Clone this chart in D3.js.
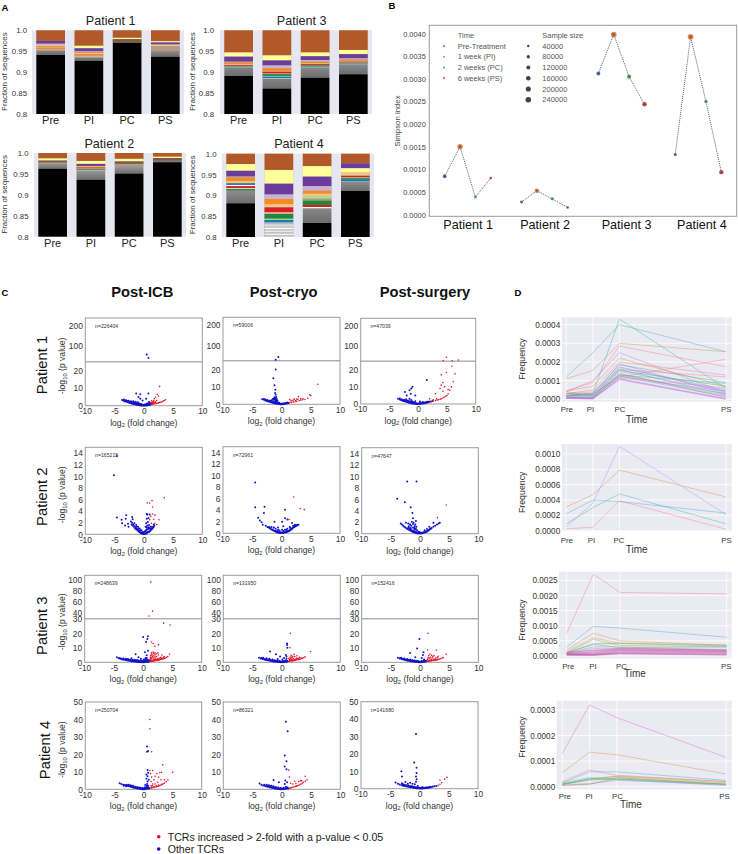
<!DOCTYPE html>
<html><head><meta charset="utf-8">
<script src="https://cdn.jsdelivr.net/npm/d3@7"></script>
<style>html,body{margin:0;padding:0;background:#fff}svg{display:block}text{font-family:"Liberation Sans",Arial,sans-serif}</style>
</head><body><svg id="c" width="738" height="854"></svg>
<script>
// ---------- Panel A data (band widths in thousandths, from the top of each bar) ----------
const timeShort=["Pre","PI","PC","PS"];
const bandColors={n:"#b15928",y:"#ffff99",p:"#6a3d9a",l:"#cab2d6",o:"#f98a1c",e:"#f5c488",r:"#d8201f",k:"#f0a09c",g:"#1a8a3c",G:"#b2df8a",b:"#1f78b4",c:"#a6cee3",w:"#ffffff",x:"#cfcfcf",m:"#7d5a45",t:"#b59a85"};
const a1Black=[.941,.9275,.97,.937];
const a1Codes=["npleoeoke","nyploeokec","nym","nypet"];
const a1Widths=[[25,7,3,3,3,2,2,2,1],[37,6,7,2,2,3,3,2,2,1],[18,3,9],[26,3,5,4,12]];
const a2Black=[.9625,.936,.951,.978];
const a2Codes=["nymt","nypeorkgGc","nymt","nym"];
const a2Widths=[[13,5,5,3],[19,7,5,2,2,2,2,2,1,1],[14,6,6,5],[9,3,6]];
const a3Black=[.891,.861,.887,.895];
const a3Codes=["nyploerkgGbc","nyploerkgGbc","nyploerkgGbc","nyploerkgGbc"];
const a3Widths=[[53,10,12,2,4,2,2,1,1,1,1,1],[60,12,12,7,6,2,4,2,4,2,3,2],[53,9,9,4,4,2,2,1,2,1,1,1],[47,10,10,3,3,2,2,1,1,1,1,1]];
const a4Black=[.881,.8,.8336,.9104];
const a4Codes=["nyploebwrwg","nyploerkgGbcxwxwxwxwx","nyploeGtgrw","npyerGgbc"];
const a4Widths=[[25,16,14,2,9,5,4,3,5,2,3],[39,33,26,11,12,8,11,5,11,3,6,3,2,3,5,3,5,3,4,3,4],[30,25,23,11,7,6,6,5,10,5,3],[23,12,10,8,4,2,3,4,1]];
const aTicks=[.8,.85,.9,.95,1];

// ---------- Panel B data ----------
const patients=["Patient 1","Patient 2","Patient 3","Patient 4"];
const timeNames=["Pre-Treatment","1 week (PI)","2 weeks (PC)","6 weeks (PS)"];
const timeColors=["#4c72b0","#dd8452","#55a868","#c44e52"];
const simpson=[[.00085,.0015,.00039,.00081],[.00028,.00053,.00035,.00016],[.00312,.00398,.00305,.00244],[.00133,.00393,.0025,.00094]];
const sampleSizes=[[110000,226404,59006,47039],[60000,165215,72961,47647],[115000,248639,131950,152416],[70000,250704,86321,141680]];
const simpsonIndex=[[0,1,2,3],[5,6,7,8],[10,11,12,13],[15,16,17,18]];
const groupCenters=[1.5,6.5,11.8,16.7];
const sizeLegend=[40000,80000,120000,160000,200000,240000];
const simpsonTicks=[0,.0005,.001,.0015,.002,.0025,.003,.0035,.004];

// ---------- Panel C data: [log2 fold change, -log10 p] ----------
const columnTitles=["Post-ICB","Post-cryo","Post-surgery"];
const nLabels=[["n=226404","n=59006","n=47039"],["n=165215","n=72961","n=47647"],["n=248639","n=131950","n=152416"],["n=250704","n=86321","n=141680"]];
const v11b=[[-3.7,3.3],[-3.5,2.9],[-3.3,2.6],[-3.1,2.4],[-2.9,2.2],[-2.7,2],[-2.5,1.7],[-2.3,1.5],[-2.1,1.3],[-1.9,1.1],[-1.7,.9],[-1.5,.8],[-1.3,.6],[-1.1,.5],[-.9,.35],[-.7,.25],[-.5,.15],[-.3,.1],[-.1,.05],[.1,.05],[.3,.1],[.5,.15],[.7,.25],[.9,.4],[1.1,.5],[-3,3.1],[-2.6,2.8],[-2.2,2.5],[-2,2],[-1.8,2.6],[-1.6,1.8],[-1.4,2.2],[-1.2,1.5],[-1,1.9],[-.8,1.3],[-.6,1],[-.4,.8],[-.2,.6],[0,.5],[.2,.7],[.4,.9],[.6,1.2],[.8,1.5],[1,1.3],[-1.3,7],[-.6,6.5],[.8,7],[-.6,4],[.4,4],[-.9,5],[-.2,3],[.5,60],[.8,43],[-3.4,3.6],[-3.2,3],[-2.8,2.7],[-2.4,2.2],[-2.2,1.9],[-1.9,1.7],[-1.7,1.4],[-1.5,1.2],[-1.3,1],[-1.1,1.2],[-.9,.9],[-.7,.7],[-.5,.5],[-.3,.4],[-.1,.3],[.1,.3],[.3,.4],[.5,.5],[.7,.6],[.9,.8],[1.1,1],[1.3,.9],[1.2,1.6],[.9,2.1]];
const v11r=[[1.3,.7],[1.5,.9],[1.7,1],[1.9,1.1],[2.1,1.2],[2.3,1.4],[2.5,1.6],[2.7,1.8],[2.9,2],[3.1,2.2],[3.3,2.6],[3.5,3],[3.7,3.4],[1.4,2],[1.6,2.5],[1.5,1.6],[1.8,1.8],[1.3,2.8],[2,2.2],[2.2,3],[1.7,3],[2.3,6.5],[2,5],[2.7,11],[2.5,5.5],[1.8,4],[1.4,1.3],[1.7,1.5],[2,1.7],[1.5,2.1],[1.2,1.7]];
const v12b=[[-3.3,2.9],[-3,2.6],[-2.8,2.3],[-2.6,2],[-2.4,1.8],[-2.2,1.6],[-2,1.4],[-1.8,1.2],[-1.6,1],[-1.4,.8],[-1.2,.6],[-1,.5],[-.8,.35],[-.6,.25],[-.4,.15],[-.2,.1],[0,.05],[.2,.1],[.4,.2],[.6,.3],[.8,.45],[1,.6],[1.2,.75],[-1.9,2],[-1.7,2.3],[-1.5,1.7],[-1.3,2.6],[-1.1,1.8],[-1.5,3],[-1.2,3.4],[-.9,2.4],[-1.1,3],[-.8,1.6],[-.6,1.1],[-.4,.9],[-.9,4.2],[-1,5.5],[-1.05,8.4],[-1.2,11],[-1.1,6.5],[-1.4,15],[-1,20],[-.54,43],[-1,30],[-3,3],[-2.7,2.7],[-2.4,2.4],[-2.1,2.1],[-1.8,1.7],[-1.6,1.4],[-1.4,1.2],[-1.2,1],[-1,.9],[-.8,.8],[-.6,.6],[-.4,.5],[-.2,.3],[0,.3],[.2,.4],[.4,.5],[.6,.6],[.8,.8],[1,1],[-1.3,3.2],[-1,2.4],[-.7,2],[-1.2,4],[-1,3.6],[-.8,3]];
const v12r=[[1.4,.9],[1.7,1],[2,1.3],[2.3,1.5],[2.6,1.7],[3,2.2],[3.3,2.4],[3.6,2.6],[4,2.8],[4.5,3.5],[5,5],[6.2,11.5],[2.9,4.5],[2.2,3],[3.3,3.3],[4.8,5.5],[2,2.5],[2.6,3],[1.6,1.9],[1.4,2.7],[2.4,2.2],[2.8,2.9],[3.7,3.2],[1.8,2.2]];
const v13b=[[-3.5,3],[-3.2,2.6],[-3,2.3],[-2.8,2],[-2.6,1.8],[-2.4,1.6],[-2.2,1.4],[-2,1.2],[-1.8,1],[-1.6,.8],[-1.4,.6],[-1.2,.5],[-1,.35],[-.8,.25],[-.6,.15],[-.4,.1],[-.2,.05],[0,.05],[.2,.1],[.4,.15],[.6,.25],[.8,.3],[1,.4],[1.2,.55],[1.4,.7],[1.6,.85],[1.8,1],[-2.4,2.3],[-2.1,2.8],[-1.8,2],[-1.5,1.6],[-1.2,2.3],[-1,1.5],[-.8,1],[-.5,1.6],[-1.5,3],[-1,10],[-2.3,7],[-1.5,8],[-1.2,9],[-2,5],[-1.3,6],[-.5,5],[1.5,14],[.3,1.4],[.8,1.2],[-3.2,3.2],[-2.9,2.7],[-2.6,2.4],[-2.3,2],[-2,1.8],[-1.7,1.4],[-1.4,1.2],[-1.2,1.1],[-1,.9],[-.8,.7],[-.6,.6],[-.4,.4],[-.2,.3],[0,.3],[.2,.4],[.4,.5],[.6,.6],[.8,.7],[1,.8],[1.2,.9],[1.4,1.1],[1.6,1.3],[1.9,1.4],[2.2,1.5],[2.5,1.7]];
const v13r=[[2,1],[2.3,1.3],[2.6,1.6],[3,2],[3.3,2.3],[3.5,2.5],[3.8,2.8],[4,3],[4.3,3.5],[4.5,4],[4.8,4.5],[5,5],[5.2,6],[5.5,8],[5.8,10],[6.1,13],[2.6,2.5],[3.2,3],[4.3,12.5],[4,11],[4.6,10],[3.8,9],[5.2,8.4],[4.3,7.4],[3,6],[2,3],[4.9,44],[4.35,28],[5.9,27],[7,31],[5.85,22],[6.4,17.6],[4.9,18.4],[4,17]];
const v21b=[[-5.1,10.2],[-4.6,13.5],[-4.6,2.9],[-3.8,2.5],[-3.7,1.9],[-3,3.3],[-3.1,2.7],[-2.7,1.8],[-2.6,1.3],[-3.2,1.5],[-2,3],[-1.9,2.6],[-2.2,2.2],[-2,2],[-1.8,1.7],[-1.6,1.4],[-1.4,1.2],[-1.2,.95],[-1,.8],[-.8,.6],[-.6,.4],[-.4,.25],[-.2,.12],[0,.05],[.2,.08],[.4,.15],[.6,.25],[.8,.4],[1,.5],[1.2,.75],[1.4,.95],[1.6,1.2],[1.8,1.5],[-1.6,1.9],[-1.3,1.6],[-1,1.3],[-.7,1],[-.4,.7],[-.2,.4],[0,.3],[.2,.5],[.4,.7],[.6,1],[.8,.9],[1,1.1],[1.2,1.3],[.5,3.5],[.6,3.4],[.8,2.8],[.7,2.1],[.9,1.6],[.4,1.9],[.5,2.7],[.3,1.3],[.6,1.5],[1,3.4],[-2.1,1.7],[-1.9,1.5],[-1.7,1.3],[-1.5,1],[-1.3,.85],[-1.1,.7],[-.9,.5],[-.7,.35],[-.5,.2],[-.3,.1],[-.1,.1],[.1,.1],[.3,.15],[.5,.3],[.7,.4],[.9,.5],[1.1,.6],[1.3,.85],[1.5,1],[1.7,1.3],[-1.2,1.3],[-.9,1],[-.6,.7],[.3,.6],[.5,.8],[.8,1.2],[.5,1.2],[1.1,1],[1.4,1.3],[1.7,1.7],[-.1,.35]];
const v21r=[[3.5,6.3],[1.4,5.8],[1,5.4],[.6,5.4],[1.5,4.7],[1.5,3.5],[1.9,3.3],[1.2,3.1],[2.6,2.5],[1.7,2.6],[1,2.5],[1.9,1.9],[1.3,1.9],[2.2,1.7]];
const v22b=[[-4.5,8.8],[-4.5,4.5],[-2.9,4.6],[-3,3.5],[-4,2.7],[-3.7,2.2],[-3.4,1.9],[-3.2,1.5],[-2.7,1.3],[-2.4,1.1],[-2.2,1],[-2,.9],[-1.8,.7],[-1.6,.6],[-1.4,.5],[-1.2,.4],[-1,.3],[-.8,.2],[-.6,.15],[-.4,.1],[-.2,.05],[0,.05],[.2,.06],[.4,.1],[.6,.15],[.8,.2],[1,.25],[1.2,.35],[1.4,.45],[1.6,.6],[1.8,.75],[2,1],[2.2,1.1],[2.4,1.2],[2.6,1.3],[2.9,1.5],[-1.7,1.1],[-1.3,1],[-1,.8],[-.7,.5],[-.3,.4],[.3,.4],[.6,.6],[1,.8],[-1.2,2],[.6,4.1],[.6,2.6],[.1,2],[1,2.4],[1.8,1.8],[.3,1.2],[-.6,1],[1.4,1.1],[-2.1,1.1],[-1.9,.85],[-1.5,.65],[-1.1,.45],[-.9,.3],[-.7,.25],[-.5,.2],[-.3,.15],[-.1,.15],[.1,.15],[.3,.15],[.5,.2],[.7,.25],[.9,.35],[1.1,.4],[1.3,.5],[1.5,.6],[1.7,.8],[1.9,.9],[2.1,1.1],[2.3,1.3],[2.5,1.4],[2.7,1.5],[-.5,.6],[.1,.6],[.8,.6],[1.5,.9],[2,1.3],[2.3,1.5]];
const v22r=[[2.1,6.3],[3.2,4.3],[3.9,4.1],[1.3,2.4]];
const v23b=[[-2.2,9.1],[-.6,9.1],[-3.9,6.1],[-2.6,5.5],[-1.6,4.6],[-1.3,3.6],[-1.2,2.7],[-3.3,1.8],[-3.1,1.6],[-2.9,1.4],[-2.7,1.2],[-2.5,1.1],[-2.3,.9],[-2.1,.8],[-1.9,.7],[-1.7,.55],[-1.5,.45],[-1.3,.35],[-1.1,.25],[-.9,.2],[-.7,.12],[-.5,.08],[-.3,.05],[0,.05],[.2,.05],[.4,.1],[.6,.15],[.8,.2],[1,.3],[1.2,.4],[1.4,.55],[1.6,.7],[1.8,.85],[2,1],[2.3,1.2],[2.6,1.4],[2.9,1.6],[3.2,1.8],[3.4,1.9],[2.3,1.9],[1.6,1.2],[-2.4,1.9],[-2,1.8],[-1.7,1.6],[-1.4,2.1],[-1.1,1.9],[-.9,1.3],[-1.2,1.1],[-.7,.8],[-.5,.6],[-.9,.7],[-1.6,1],[-.2,.35],[.8,.6],[1.2,.8],[-2,1.1],[-1.8,.9],[-1.6,.8],[-1.4,.6],[-1.2,.5],[-1,.4],[-.8,.35],[-.6,.25],[-.4,.2],[-.2,.15],[0,.2],[.1,.15],[.3,.15],[.5,.2],[.7,.25],[.9,.3],[1.1,.4],[1.3,.5],[1.5,.6],[1.7,.8],[1.9,.9],[-1.2,1.7],[-1,.9],[-.9,1],[-.6,1.2],[-.8,1.6],[-.7,2.2],[-1.5,1.4],[-1.9,1.3]];
const v23r=[[4.5,5],[3,2.8]];
const v31b=[[-4.5,3.4],[-4.2,2.8],[-3.9,2.4],[-3.6,2],[-3.3,1.8],[-3,1.6],[-2.8,1.4],[-2.6,1.2],[-2.4,1.1],[-2.2,1],[-2,.8],[-1.8,.7],[-1.6,.6],[-1.4,.5],[-1.2,.4],[-1,.3],[-.8,.25],[-.6,.2],[-.4,.1],[-.2,.05],[0,.05],[.2,.1],[.4,.2],[.6,.3],[.8,.4],[1,.5],[-3.4,2.6],[-3,2.4],[-2.6,2.2],[-2.2,1.8],[-1.8,1.6],[-1.4,1.5],[-1,1.2],[-.6,1],[-.2,.8],[.2,1],[.6,1.1],[-2,2.8],[-1.3,5.5],[-.8,3.5],[-.4,2.4],[.4,3],[.6,4.8],[.8,8],[.5,14],[.7,16],[0,17.5],[.8,18],[.3,7],[.1,2],[1,1.5],[-4,3],[-3.7,2.5],[-3.4,2.2],[-3.1,2],[-2.8,2.2],[-2.5,1.8],[-2.3,1.6],[-2.1,1.4],[-1.9,1.2],[-1.7,1.1],[-1.5,1],[-1.3,.8],[-1.1,.7],[-.9,.6],[-.7,.5],[-.5,.4],[-.3,.4],[-.1,.3],[.1,.3],[.3,.5],[.5,.6],[.7,.7],[.9,.8],[-1.5,1.8],[-1.2,1.5],[-.9,1.5],[-.4,1.4],[0,1.2],[.4,1.6],[.7,1.8],[.9,1.4],[.6,3],[.4,2.2]];
const v31r=[[1.2,.6],[1.4,.7],[1.6,.8],[1.8,.9],[2,1],[2.2,1.2],[2.4,1.3],[2.6,1.5],[2.8,1.7],[3,1.9],[3.2,2.1],[3.4,2.3],[3.6,2.6],[3.8,3],[4,3.4],[4.2,4],[4.5,5.6],[1.2,1.5],[1.3,2.5],[1.5,3.5],[1.3,4.5],[1.5,5.5],[1.7,4.5],[1.4,6.5],[1.7,7],[1.9,2],[2.1,3],[2,5],[2.4,2.5],[2.3,4],[2.7,3],[2.6,5],[3,3.5],[3.2,5],[3.6,4],[2,6.5],[1.4,14],[1.7,13],[2.6,12],[2,11],[3.5,27],[4.6,25.7],[1.6,44],[1,35],[1.3,97],[1.3,1.1],[1.5,1.3],[1.7,1.4],[1.9,1.5],[2.1,1.7],[2.3,1.9],[2.5,2],[2.7,2.2],[2.9,2.4],[3.1,2.6],[3.3,3],[3.5,3.2],[1.2,2.2],[1.5,2.3],[1.4,3],[1.6,4],[1.2,3.5],[1.8,3],[2,3.8],[1.8,6],[1.4,5],[2.2,5.8],[2.5,6.5]];
const v32b=[[-3.9,3.2],[-3.6,2.6],[-3.3,2.3],[-3,2],[-2.8,1.8],[-2.6,1.6],[-2.4,1.4],[-2.2,1.2],[-2,1],[-1.8,.9],[-1.6,.8],[-1.4,.6],[-1.2,.5],[-1,.4],[-.8,.3],[-.6,.2],[-.4,.15],[-.2,.1],[0,.05],[.2,.1],[.4,.2],[.6,.3],[.8,.4],[1,.5],[-3.2,3.2],[-2.6,2.8],[-2.1,2.4],[-1.6,2],[-1.2,1.5],[-.8,1.2],[-.4,1],[.2,.9],[.6,1.2],[-2,7.5],[-1,5.5],[-.3,4],[.4,3],[.9,13],[.9,12],[.95,10],[.7,5],[.8,4],[-3.5,3],[-3.1,2.6],[-2.7,2.3],[-2.3,1.9],[-1.9,1.6],[-1.5,1.3],[-1.3,1.1],[-1.1,.9],[-.9,.8],[-.7,.7],[-.5,.6],[-.3,.5],[-.1,.4],[.1,.4],[.3,.6],[.5,.8],[.7,.9],[.9,1],[-.7,2.2],[.1,2],[.8,2.4]];
const v32r=[[1.2,.6],[1.4,.8],[1.6,.9],[1.8,1],[2,1.1],[2.2,1.3],[2.4,1.5],[2.6,1.7],[2.8,1.9],[3,2.1],[3.2,2.3],[3.4,2.6],[3.6,2.9],[3.8,3.3],[4,3.8],[4.9,7.5],[1.3,1.8],[1.5,2.6],[1.4,3.5],[1.7,2],[1.8,3.2],[2,2.5],[2.2,4],[2.5,3],[2.6,4.5],[3,3.5],[2.1,5.5],[1.6,4.8],[1.4,10],[1.45,20],[1.3,1.2],[1.5,1.5],[1.7,1.4],[1.9,1.6],[2.1,1.8],[2.3,2],[2.5,2.2],[2.7,2.5],[1.2,2.6],[1.6,3.6],[1.9,4.2],[2.9,2.8],[3.3,3.1]];
const v33b=[[-3.8,3.2],[-3.5,2.7],[-3.2,2.4],[-3,2.1],[-2.8,1.9],[-2.6,1.7],[-2.4,1.5],[-2.2,1.3],[-2,1.1],[-1.8,1],[-1.6,.8],[-1.4,.7],[-1.2,.5],[-1,.4],[-.8,.3],[-.6,.2],[-.4,.15],[-.2,.1],[0,.05],[.2,.1],[.4,.2],[.6,.3],[.8,.4],[1,.5],[-3.2,3],[-2.7,2.6],[-2.2,2.2],[-1.7,2],[-1.3,1.6],[-.9,1.3],[-.5,1.1],[-.2,.8],[.3,.9],[.7,1.1],[-.1,16],[-.5,9.5],[-1.7,6.5],[.6,7],[.5,5],[-.8,3.5],[.3,3],[-3.4,3],[-3.1,2.5],[-2.9,2.3],[-2.5,2],[-2.1,1.7],[-1.9,1.5],[-1.5,1.2],[-1.1,.9],[-.7,.7],[-.3,.5],[.1,.4],[.5,.6],[.9,.9],[1.1,1],[.7,2]];
const v33r=[[1.2,.6],[1.4,.7],[1.6,.8],[1.8,.9],[2,1],[2.2,1.2],[2.4,1.3],[2.6,1.5],[2.8,1.6],[3,1.8],[3.2,2],[3.4,2.3],[3.6,2.6],[3.8,2.9],[4,3.3],[4.5,5.5],[1.3,2],[1.6,2.7],[1.9,2],[2.1,3],[2.4,2.3],[2.7,3],[3,3.4],[1.5,4.5],[2,4.8],[1.7,5.5],[2.4,4.6],[3.1,4.2],[1.3,8.5],[2.8,8.5],[1.4,20],[1.4,1.2],[1.7,1.4],[2,1.6],[2.3,1.8],[2.6,2],[2.9,2.3],[1.4,3.2],[1.8,3.5],[2.2,3.9]];
const v41b=[[-4.1,3.5],[-3.8,3],[-3.5,2.6],[-3.2,2.4],[-3,2.2],[-2.8,2],[-2.6,1.9],[-2.4,1.7],[-2.2,1.5],[-2,1.3],[-1.8,1.1],[-1.6,.9],[-1.4,.8],[-1.2,.6],[-1,.5],[-.8,.4],[-.6,.25],[-.4,.15],[-.2,.1],[0,.05],[.2,.1],[.4,.2],[.6,.3],[.8,.4],[1,.5],[-3.4,2],[-3,1.7],[-2.6,2.6],[-2.2,2.3],[-1.8,2],[-1.4,1.5],[-1,1.2],[-.6,1],[-.2,.8],[.2,1],[.5,1.6],[.6,3],[.7,4.5],[.5,6],[.7,7.5],[.5,8.5],[.8,9.5],[.7,11],[.9,5.5],[.3,2.5],[.6,24.5],[.6,21.5],[.8,22],[-2.9,2.6],[-2.5,2.3],[-2.1,1.9],[-1.7,1.6],[-1.3,1.2],[-1.1,1],[-.9,.8],[-.7,.6],[-.5,.5],[-.3,.4],[-.1,.4],[.1,.5],[.3,.7],[.5,.8],[.7,1.1],[.9,1.1],[.8,2],[.6,2]];
const v41r=[[1.2,.7],[1.4,.8],[1.6,1],[1.8,1.1],[2,1.3],[2.2,1.5],[2.4,1.7],[2.6,1.9],[2.8,2.2],[3,2.4],[3.2,2.8],[3.4,3.2],[3.6,3.6],[3.9,4.4],[4.2,5.3],[1.3,2],[1.6,3],[1.3,4.5],[1.8,5.5],[1.4,7],[2,7.5],[1.2,9],[1.6,10.8],[1.1,10.7],[2.3,9],[2.6,7],[2.8,9.5],[3.1,9.7],[3.3,14],[3.6,5.5],[5,9.7],[2.4,4],[3,5.5],[1.4,21.5],[1.1,34.7],[1.1,40],[1.4,1.3],[1.8,1.6],[2.2,2],[2.6,2.4],[1.5,2],[2,3]];
const v42b=[[-3.8,3.3],[-3.5,2.6],[-3.2,2.2],[-2.9,2],[-2.7,1.8],[-2.5,1.6],[-2.3,1.4],[-2.1,1.2],[-1.9,1],[-1.7,.9],[-1.5,.8],[-1.3,.6],[-1.1,.5],[-.9,.35],[-.7,.25],[-.5,.2],[-.3,.1],[-.1,.05],[.1,.05],[.3,.1],[.5,.2],[.7,.3],[.9,.4],[1.1,.5],[-2.6,2.6],[-2.2,2.3],[-1.8,2.1],[-1.4,1.7],[-1,1.3],[-.6,1.1],[-.2,.8],[.3,.9],[.7,1.5],[.5,3],[.6,5],[.9,4],[-1.4,5.3],[-.5,4],[.7,38.7],[1,33.3],[.5,19.3],[.8,16],[.5,13],[.8,11.5],[-3,2.6],[-2.4,2],[-2,1.7],[-1.6,1.4],[-1.2,1],[-.8,.8],[-.4,.5],[0,.4],[.4,.6],[.8,.9],[1,1.1]];
const v42r=[[1.3,.6],[1.5,.8],[1.7,1],[1.9,1.2],[2.1,1.4],[2.3,1.6],[2.5,1.8],[2.7,2],[2.9,2.3],[3.1,2.6],[3.3,3],[3.5,3.5],[3.7,4],[4,4.7],[4.3,5.5],[4,7.5],[1.2,11],[1.3,7],[3.2,5],[2.9,4.5],[2.4,3.3],[1.9,3],[1.5,3.5],[3.4,4.8],[2.2,4.6]];
const v43b=[[-4.1,3.5],[-3.7,2.8],[-3.4,2.4],[-3.1,2.1],[-2.9,1.9],[-2.7,1.7],[-2.5,1.5],[-2.3,1.4],[-2.1,1.3],[-1.9,1.1],[-1.7,1],[-1.5,.9],[-1.3,.8],[-1.1,.6],[-.9,.5],[-.7,.4],[-.5,.3],[-.3,.2],[-.1,.1],[.1,.1],[.3,.1],[.5,.15],[.7,.2],[.9,.3],[1.1,.35],[1.3,.45],[1.5,.6],[1.7,.7],[1.9,.8],[2.1,1],[2.3,1.2],[2.6,1.4],[2.9,1.6],[-3,3.2],[-2.4,3.8],[-2,2.8],[-1.6,3.4],[-1.2,2.8],[-.8,2.6],[-.6,4],[-.5,5.5],[-.6,7],[-.5,9],[-.5,12],[-.9,15],[-3,7],[-3.1,10],[-.6,31.5],[.5,.8],[-.3,1.5],[-2.8,2.6],[-2.5,2.2],[-2.2,2],[-1.9,1.8],[-1.6,1.6],[-1.4,1.4],[-1.2,1.2],[-1,1.1],[-.8,1],[-.6,.9],[-.4,.7],[-.2,.5],[0,.5],[.2,.4],[.4,.5],[.7,.6],[1,.7],[1.3,.9],[1.7,1.1]];
const v43r=[[3.2,2],[3.5,2.6],[3.8,3.5],[3.5,5],[4.3,5.5],[4.7,6.5]];
const volcanoBlue=[[v11b,v12b,v13b],[v21b,v22b,v23b],[v31b,v32b,v33b],[v41b,v42b,v43b]];
const volcanoRed=[[v11r,v12r,v13r],[v21r,v22r,v23r],[v31r,v32r,v33r],[v41r,v42r,v43r]];
const foldTicks=[-10,-5,0,5,10];
const pRow1Ticks=[0,10,20,100,200];
const pRow2Ticks=[0,2,4,6,8,10,12,14];
const pRow3Ticks=[0,10,20,30,40,60,80,100];
const pRow4Ticks=[0,10,20,30,40,50];
const legendLabels=["TCRs increased > 2-fold with a p-value < 0.05","Other TCRs"];

// ---------- Panel D data: frequency at weeks 0,1,2,6 ----------
const weeks=[0,1,2,6];
const husl=["#f77189","#ce9032","#97a431","#32b166","#36ada4","#39a7d0","#a48cf4","#dd62c8","#c45fb0"];
const d1Lines=[[.00012,.00025,.0004,.000255],[.00002,.00003,.00043,.00006],[.00011,.000155,.0003,.000255],[.000045,.00009,.000285,.000175],[.00004,.0001,.00025,.000035],[.00002,.00003,.00012,.000215],[.000045,.00007,.00022,.00007],[.00003,.00005,.0002,.00013],[.00002,.00003,.00019,.00003],[.00003,.00003,.000185,.00009],[.00002,.000025,.00017,.00005],[.000015,.00001,.00016,.000025],[.00003,.00002,.000155,.00007],[.00001,.00001,.00015,.000045],[.000005,.000005,.00014,.00001],[.00001,.000005,.00013,.00003],[.000015,.00001,.00012,.00006],[.00001,.000005,.000115,.000045],[.000005,.000002,.00011,.000002],[.00001,.000005,.00011,.000005],[.000005,.000002,.000105,0],[.00003,.00004,.00016,.00012],[.00002,.00002,.00013,.000085],[.00004,.00002,.000135,.00002],[.00001,.00001,.000125,.000015],[.00002,.000015,.000175,.00004]];
const d1Colors=[4,4,1,0,7,0,1,0,7,4,5,5,3,6,7,5,0,6,7,6,7,0,4,1,5,6];
const d2Lines=[[.00031,.00047,.00079,.00044],[.00005,.00036,.0011,.00021],[.00009,.0003,.00048,.00009],[.00022,.0004,.00038,.00023],[.000025,.000045,.00039,.00002]];
const d2Colors=[1,6,4,5,0];
const d3Lines=[[.00075,.0027,.0021,.00205],[.0003,.00098,.00092,.00062],[.0002,.00075,.0005,.00035],[.00015,.0006,.00042,.00037],[.0001,.00055,.00035,.0003],[.0001,.0004,.00042,.00033],[.00012,.00038,.00028,.0003],[.0001,.0003,.0003,.0002],[.0001,.00025,.00025,.00022],[.0001,.0002,.0002,.00015],[.00012,.00018,.00026,.00018],[.00008,.00015,.00024,.0002],[.00008,.00012,.00022,.00018],[.00006,.0001,.0002,.00016],[.00008,.00008,.00018,.00014],[.00006,.00006,.00016,.00012],[.00005,.00005,.00014,.0001],[.00005,.00004,.00012,.00009],[.00004,.00004,.0001,.00007],[.00004,.00003,.00009,.00005],[.00003,.00003,.00008,.00004],[.00003,.00002,.00007,.00003]];
const d3Colors=[0,5,1,1,2,3,5,1,6,8,8,8,8,8,8,8,8,8,8,8,8,8];
const d4Lines=[[.00013,.00032,.00027,.000115],[.000055,.000135,.000125,.00005],[.00002,.000065,.000045,.00002],[.000015,.000058,.000058,.000025],[.000015,.000035,.00003,.00001],[.00001,.00003,.000042,.00002],[.00001,.00003,.00004,.000015],[.00001,.000025,.000035,.00001],[.000005,.00001,.000035,.00001],[.00001,.00001,.00003,.000008],[.000008,.00003,.000028,.000005],[.000005,.000012,.000025,.000008]];
const d4Colors=[7,1,0,5,4,1,2,3,1,2,4,6];
const d1Ticks=[0,.0001,.0002,.0003,.0004];
const d2Ticks=[0,.0002,.0004,.0006,.0008,.001];
const d3Ticks=[0,.0005,.001,.0015,.002,.0025];
const d4Ticks=[0,.0001,.0002,.0003];

// ---------- drawing ----------
const svg=d3.select("#c");
const defs=svg.append("defs");
const grad=defs.append("linearGradient").attr("id","grayBand").attr("x1",0).attr("x2",0).attr("y1",0).attr("y2",1);
grad.append("stop").attr("offset","0%").attr("stop-color","#d2d2d2");
grad.append("stop").attr("offset","55%").attr("stop-color","#a8a8a8");
grad.append("stop").attr("offset","100%").attr("stop-color","#6c6c6c");

function label(x,y,txt,o={}){
  return svg.append("text").attr("x",x).attr("y",y).attr("text-anchor",o.anchor||"middle").attr("dominant-baseline","central")
    .attr("font-size",o.size||8).attr("font-weight",o.weight||null).attr("fill",o.fill||"#222")
    .attr("transform",o.rot?`rotate(${o.rot} ${x} ${y})`:null).text(txt);
}
function styleAxis(g,size,fill){
  g.select(".domain").remove();
  g.selectAll(".tick line").remove();
  g.selectAll("text").attr("font-size",size).attr("fill",fill).attr("font-family",'"Liberation Sans",Arial,sans-serif');
}
[["A",5,7],["B",392,5],["C",5,292],["D",518,292]].forEach(d=>label(d[1],d[2],d[0],{size:9.5,weight:"bold",fill:"#000"}));

// Panel A
function stackPanel(cfg){
  const y=d3.scaleLinear().domain([.8,1]).range([cfg.bottom,cfg.top]);
  const x=d3.scaleBand().domain(timeShort).range([cfg.left,cfg.right]).paddingInner(.25).paddingOuter(.113);
  const g=svg.append("g");
  g.append("rect").attr("x",cfg.left).attr("y",cfg.top).attr("width",cfg.right-cfg.left).attr("height",cfg.bottom-cfg.top).attr("fill","#e6e6f0");
  timeShort.forEach((t,i)=>{
    let cur=1;
    const codes=cfg.codes[i], w=cfg.widths[i];
    const black=cfg.black[i];
    g.append("rect").attr("x",x(t)).attr("width",x.bandwidth()).attr("y",y(1)).attr("height",y(black)-y(1)).attr("fill","url(#grayBand)");
    g.append("rect").attr("x",x(t)).attr("width",x.bandwidth()).attr("y",y(black)).attr("height",y(.8)-y(black)).attr("fill","#000");
    w.forEach((v,j)=>{
      const next=cur-v/1000;
      g.append("rect").attr("x",x(t)).attr("width",x.bandwidth()).attr("y",y(cur)).attr("height",y(next)-y(cur)).attr("fill",bandColors[codes[j]]);
      cur=next;
    });
  });
  const ax=g.append("g").attr("transform",`translate(0,${cfg.bottom})`).call(d3.axisBottom(x).tickSize(0).tickPadding(2.5));
  styleAxis(ax,11,"#222");
  const ay=g.append("g").attr("transform",`translate(${cfg.left},0)`).call(d3.axisLeft(y).tickValues(aTicks).tickSize(0).tickPadding(cfg.pad).tickFormat(d=>d===1?"1.0":d===.8?"0.8":d===.9?"0.9":String(d)));
  styleAxis(ay,7.8,"#333");
  label(cfg.lab,(cfg.top+cfg.bottom)/2-.5,"Fraction of sequences",{size:8,rot:-90,fill:"#333"});
  label(cfg.tx,cfg.ty,cfg.title,{size:12.6});
}
stackPanel({left:32,right:184,top:30.3,bottom:114,pad:5,lab:5,tx:110.7,ty:21,title:patients[0],black:a1Black,codes:a1Codes,widths:a1Widths});
stackPanel({left:220,right:372,top:30.3,bottom:114,pad:6,lab:192.7,tx:301.7,ty:21,title:patients[2],black:a3Black,codes:a3Codes,widths:a3Widths});
stackPanel({left:34,right:186,top:153,bottom:236.7,pad:5.5,lab:5,tx:109.3,ty:144,title:patients[1],black:a2Black,codes:a2Codes,widths:a2Widths});
stackPanel({left:222,right:374,top:153.7,bottom:237,pad:5.5,lab:193,tx:299,ty:144,title:patients[3],black:a4Black,codes:a4Codes,widths:a4Widths});

// Panel B
(function(){
  const L=429.3,R=736.7,T=25.3,B=216.3;
  const x=d3.scaleLinear().domain([-1,19]).range([L,R]);
  const y=d3.scaleLinear().domain([0,.004]).range([214.7,33.7]);
  const r=d3.scaleSqrt().domain([40000,240000]).range([1.2,2.8]);
  svg.append("rect").attr("x",L).attr("y",T).attr("width",R-L).attr("height",B-T).attr("fill","#fff").attr("stroke","#9a9a9a").attr("stroke-width",1);
  const ay=svg.append("g").attr("transform",`translate(${L},0)`).call(d3.axisLeft(y).tickValues(simpsonTicks).tickSize(0).tickPadding(3.5).tickFormat(d3.format(".4f")));
  styleAxis(ay,7.4,"#444");
  const ax=svg.append("g").attr("transform",`translate(0,${B})`).call(d3.axisBottom(x).tickValues(groupCenters).tickSize(0).tickPadding(4).tickFormat((d,i)=>patients[i]));
  styleAxis(ax,12.6,"#111");
  label(397,121,"Simpson index",{size:7.8,rot:-90,fill:"#444"});
  const line=d3.line().x(d=>x(d[0])).y(d=>y(d[1]));
  simpson.forEach((vals,p)=>{
    const pts=vals.map((v,i)=>[simpsonIndex[p][i],v]);
    svg.append("path").attr("d",line(pts)).attr("fill","none").attr("stroke","#333").attr("stroke-width",.8).attr("stroke-dasharray","1 1");
    pts.forEach((q,i)=>{
      const rad=r(sampleSizes[p][i]);
      svg.append("circle").attr("cx",x(q[0])).attr("cy",y(q[1])).attr("r",rad).attr("fill",timeColors[i]);
      svg.append("circle").attr("cx",x(q[0])).attr("cy",y(q[1])).attr("r",rad*.45).attr("fill","#333").attr("opacity",.55);
    });
  });
  label(457.7,35,"Time",{anchor:"start",size:7.5,fill:"#555"});
  timeNames.forEach((t,i)=>{
    const yy=46+i*10.7;
    svg.append("circle").attr("cx",444).attr("cy",yy).attr("r",1).attr("fill",timeColors[i]);
    label(457.7,yy,t,{anchor:"start",size:7.5,fill:"#555"});
  });
  label(542.3,35,"Sample size",{anchor:"start",size:7.5,fill:"#555"});
  sizeLegend.forEach((s,i)=>{
    const yy=46+i*10.75;
    svg.append("circle").attr("cx",528.3).attr("cy",yy).attr("r",r(s)).attr("fill","#444");
    label(542.3,yy,d3.format("d")(s),{anchor:"start",size:7.5,fill:"#555"});
  });
})();

// Panel C
const colTitleX=[142.3,283.7,425];
columnTitles.forEach((t,i)=>label(colTitleX[i],292.3,t,{size:14.7,weight:"bold",fill:"#111"}));
const rowName=[{x:41.7,y:365},{x:41.7,y:496.7},{x:41.7,y:625.7},{x:45,y:750}];
rowName.forEach((d,i)=>label(d.x,d.y,patients[i],{size:14.8,rot:-90,fill:"#111"}));
const boxes=[
 [{l:85.3,r:202.3,t:318,b:405.7},{l:223,r:340,t:317.3,b:404.3},{l:360.7,r:475.7,t:318.3,b:404}],
 [{l:85.3,r:202.3,t:447.3,b:534.3},{l:223,r:340,t:446.7,b:533.3},{l:361.7,r:478.3,t:447.7,b:533.7}],
 [{l:84.7,r:201.7,t:575.3,b:662.3},{l:223.3,r:340.3,t:575.3,b:662.3},{l:361.7,r:478.3,t:575.3,b:662.3}],
 [{l:85.3,r:201.7,t:702,b:789.3},{l:223.3,r:340.3,t:702,b:789.3},{l:361,r:478,t:701.7,b:788.7}]];
const rowScale=[
 {dom:[0,25,236],frac:[0,.5,1],ticks:pRow1Ticks,hl:25},
 {dom:[0,15],frac:[0,1],ticks:pRow2Ticks},
 {dom:[0,30,109],frac:[0,.5,1],ticks:pRow3Ticks,hl:30},
 {dom:[0,50],frac:[0,1],ticks:pRow4Ticks}];
function subLabel(sel,a,sub,b,size){
  sel.append("tspan").text(a);
  sel.append("tspan").text(sub).attr("font-size",size*.68).attr("dy",size*.28);
  sel.append("tspan").text(b).attr("dy",-size*.28);
}
boxes.forEach((row,ri)=>row.forEach((bx,ci)=>{
  const rs=rowScale[ri];
  const x=d3.scaleLinear().domain([-10,10]).range([bx.l,bx.r]);
  const y=d3.scaleLinear().domain(rs.dom).range(rs.frac.map(f=>bx.b+(bx.t-bx.b)*f));
  svg.append("rect").attr("x",bx.l).attr("y",bx.t).attr("width",bx.r-bx.l).attr("height",bx.b-bx.t).attr("fill","#fff").attr("stroke","#9c9c9c").attr("stroke-width",1);
  if(rs.hl) svg.append("line").attr("x1",bx.l).attr("x2",bx.r).attr("y1",y(rs.hl)).attr("y2",y(rs.hl)).attr("stroke","#8a8a8a").attr("stroke-width",1);
  const ay=svg.append("g").attr("transform",`translate(${bx.l},0)`).call(d3.axisLeft(y).tickValues(rs.ticks).tickSize(0).tickPadding(2.5).tickFormat(d3.format("d")));
  styleAxis(ay,8.4,"#333");
  const ax=svg.append("g").attr("transform",`translate(0,${bx.b})`).call(d3.axisBottom(x).tickValues(foldTicks).tickSize(0).tickPadding(2.5).tickFormat(d=>String(d)));
  styleAxis(ax,8.4,"#333");
  const g=svg.append("g");
  g.selectAll(".b").data(volcanoBlue[ri][ci]).join("circle").attr("cx",d=>x(d[0])).attr("cy",d=>y(d[1])).attr("r",1).attr("fill","#1212c8");
  g.selectAll(".r").data(volcanoRed[ri][ci]).join("circle").attr("cx",d=>x(d[0])).attr("cy",d=>y(d[1])).attr("r",.8).attr("fill","#e4102a");
  label(bx.l+9.7,bx.t+8,nLabels[ri][ci],{anchor:"start",size:5.2,fill:"#333"});
  const xl=svg.append("text").attr("x",(bx.l+bx.r)/2).attr("y",bx.b+17).attr("text-anchor","middle").attr("dominant-baseline","central").attr("font-size",8.6).attr("fill","#333");
  subLabel(xl,"log","2"," (fold change)",8.6);
  if(ci===0){
    const yc=(bx.t+bx.b)/2+ (ri===0?4:ri===1?4:ri===2?3:4);
    const yl=svg.append("text").attr("transform",`translate(62.3,${yc}) rotate(-90)`).attr("text-anchor","middle").attr("dominant-baseline","central").attr("font-size",8.6).attr("fill","#333");
    subLabel(yl,"-log","10"," (p value)",8.6);
  }
}));
legendLabels.forEach((t,i)=>{
  const yy=836.7+i*12.3;
  svg.append("circle").attr("cx",158.7).attr("cy",yy).attr("r",1.8).attr("fill",i?"#1212c8":"#e4102a");
  label(167.7,yy,t,{anchor:"start",size:10.6,fill:"#222"});
});

// Panel D
function freqPanel(cfg){
  const x=d3.scaleLinear().domain([0,6]).range([cfg.x0,cfg.x6]);
  const y=d3.scaleLinear().domain([0,cfg.maxT]).range([cfg.y0,cfg.yMax]);
  svg.append("rect").attr("x",cfg.l).attr("y",cfg.t).attr("width",731.7-cfg.l).attr("height",cfg.b-cfg.t).attr("fill","#eaeaf2");
  weeks.forEach(w=>svg.append("line").attr("x1",x(w)).attr("x2",x(w)).attr("y1",cfg.t).attr("y2",cfg.b).attr("stroke","#fff").attr("stroke-width",.8));
  cfg.ticks.forEach(v=>svg.append("line").attr("x1",cfg.l).attr("x2",731.7).attr("y1",y(v)).attr("y2",y(v)).attr("stroke","#fff").attr("stroke-width",.8));
  const line=d3.line().x((d,i)=>x(weeks[i])).y(d=>y(d));
  cfg.lines.forEach((v,i)=>svg.append("path").attr("d",line(v)).attr("fill","none").attr("stroke",husl[cfg.colors[i]]).attr("stroke-width",.8).attr("opacity",.5));
  const ay=svg.append("g").attr("transform",`translate(${cfg.l},0)`).call(d3.axisLeft(y).tickValues(cfg.ticks).tickSize(0).tickPadding(1.5).tickFormat(d3.format(".4f")));
  styleAxis(ay,8.2,"#333");
  const ax=svg.append("g").attr("transform",`translate(0,${cfg.tickY})`).call(d3.axisBottom(x).tickValues(weeks).tickSize(0).tickPadding(0).tickFormat((d,i)=>timeShort[i]));
  styleAxis(ax,7.8,"#333");
  ax.selectAll("text").attr("dx",(d,i)=>cfg.dx[i]);
  label(cfg.timeX,cfg.timeY,"Time",{size:10,fill:"#333"});
  label(521.7,cfg.fy,"Frequency",{size:8.8,rot:-90,fill:"#333"});
}
freqPanel({l:561.7,t:317.3,b:401.7,x0:566.3,x6:725.8,y0:399.3,yMax:324.7,maxT:.0004,ticks:d1Ticks,lines:d1Lines,colors:d1Colors,tickY:406,dx:[0,-3,0,0],timeX:636.7,timeY:419,fy:359});
freqPanel({l:561.7,t:444,b:531,x0:566.3,x6:726,y0:530.7,yMax:454,maxT:.001,ticks:d2Ticks,lines:d2Lines,colors:d2Colors,tickY:537,dx:[0,-2,-1,0],timeX:636.7,timeY:549,fy:492.3});
freqPanel({l:559,t:571.7,b:658.3,x0:566.7,x6:726.7,y0:656,yMax:580.3,maxT:.0025,ticks:d3Ticks,lines:d3Lines,colors:d3Colors,tickY:663.5,dx:[1,-1,1,-1],timeX:635,timeY:673.7,fy:620});
freqPanel({l:556.7,t:700.7,b:789.3,x0:562.3,x6:726,y0:786.7,yMax:710,maxT:.0003,ticks:d4Ticks,lines:d4Lines,colors:d4Colors,tickY:793,dx:[2,-1,0,-2],timeX:631,timeY:804.7,fy:737});
</script></body></html>
